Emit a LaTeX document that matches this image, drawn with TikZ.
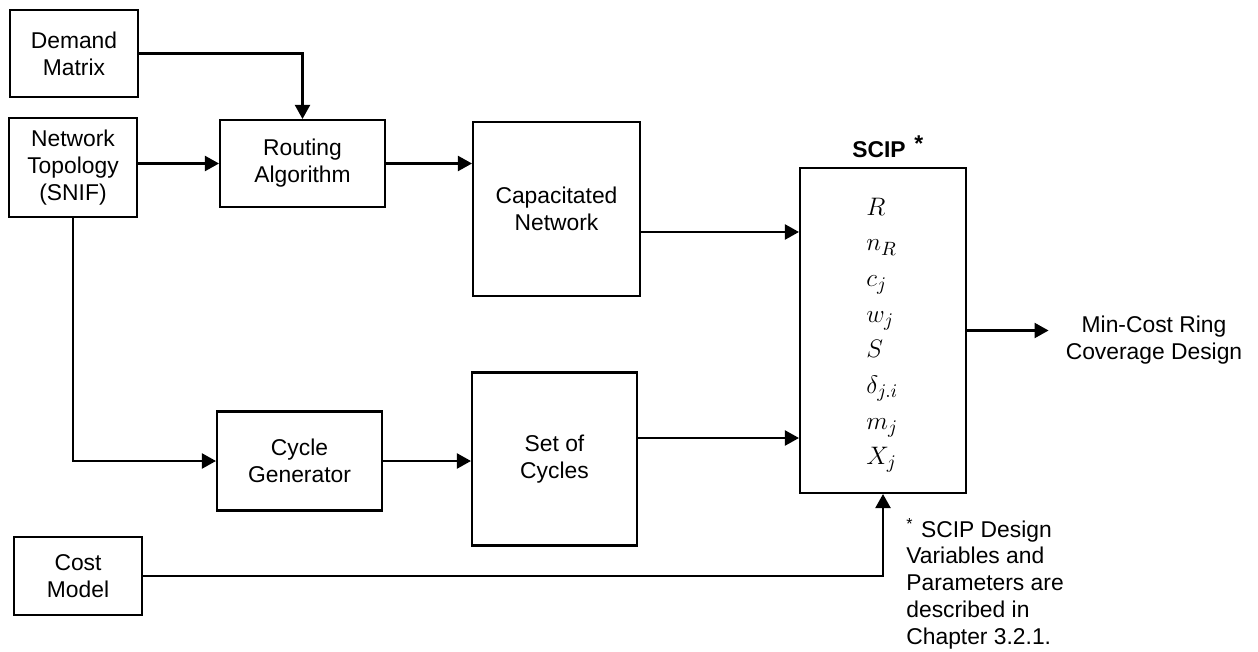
\documentclass[tikz,border=0pt]{standalone}
\usepackage{fontspec}
\setsansfont{Liberation Sans}
\usetikzlibrary{positioning, arrows.meta, calc}

\begin{document}
\begin{tikzpicture}[
  x=0.02cm, y=-0.02cm,
  font=\sffamily\fontsize{13}{15.3}\selectfont,
  block/.style={
    draw, line width=1.2pt, align=center, inner sep=2pt
  },
  arrow/.style={-{Triangle[length=0.28cm, width=0.3cm]}, line width=1.2pt},
  var/.style={font=\fontsize{15}{18}\selectfont, inner sep=0pt, anchor=base west},
  note/.style={align=left, inner sep=0pt},
]
\useasboundingbox (0,0) rectangle (1258,652);

% Input blocks on the left
\node[block, minimum width=2.56cm, minimum height=1.74cm] (demand) at (74,53.5) {Demand\\Matrix};
\node[block, minimum width=2.56cm, minimum height=1.98cm] (topo) at (73,167.5) {Network\\Topology\\(SNIF)};
\node[block, minimum width=2.56cm, minimum height=1.56cm] (cost) at (78,576) {Cost\\Model};

% Processing blocks
\node[block, minimum width=3.3cm, minimum height=1.74cm] (routing) at (302.5,163.5) {Routing\\Algorithm};
\node[block, minimum width=3.34cm, minimum height=3.48cm] (capnet) at (556.5,209) {Capacitated\\Network};
\node[block, minimum width=3.3cm, minimum height=1.98cm] (cyclegen) at (299.5,461) {Cycle\\Generator};
\node[block, minimum width=3.3cm, minimum height=3.46cm] (cycles) at (554.5,459) {Set of\\Cycles};

% SCIP block with its variables
\node[block, minimum width=3.32cm, minimum height=6.5cm] (scip) at (883,330.5) {};
\node[anchor=base west, inner sep=0pt, font=\sffamily\bfseries\fontsize{13}{15}\selectfont] (sciplabel) at (852,157) {SCIP\hspace{5pt}\raisebox{3pt}{*}};
\foreach \v [count=\i] in {R, n_R, c_j, w_j, S, \delta_{j.i}, m_j, X_j}
  \node[var] (var\i) at (866,{215+35.7*(\i-1)}) {$\v$};

% Output and footnote
\node[align=center] (result) at (1154,340) {Min-Cost Ring\\Coverage Design};
\node[note, anchor=north west] (footnote) at (906,518) {\textsuperscript{*}\,\,SCIP Design\\Variables and\\Parameters are\\described in\\Chapter 3.2.1.};

% Connectors
\draw[arrow] (demand.east) -| (routing.north);
\draw[arrow] (topo.east |- routing.west) -- (routing.west);
\draw[arrow] (routing.east) -- (routing.east -| capnet.west);
\draw[arrow] (topo.south) |- (cyclegen.west);
\draw[arrow] (cyclegen.east) -- (cyclegen.east -| cycles.west);
\draw[arrow] ([yshift=-0.46cm]capnet.east) -- ([yshift=-0.46cm]capnet.east -| scip.west);
\draw[arrow] ([yshift=0.42cm]cycles.east) -- ([yshift=0.42cm]cycles.east -| scip.west);
\draw[arrow] (cost.east) -| (scip.south);
\draw[arrow] (scip.east) -- ([xshift=-0.22cm]scip.east -| result.west);

\end{tikzpicture}
\end{document}
